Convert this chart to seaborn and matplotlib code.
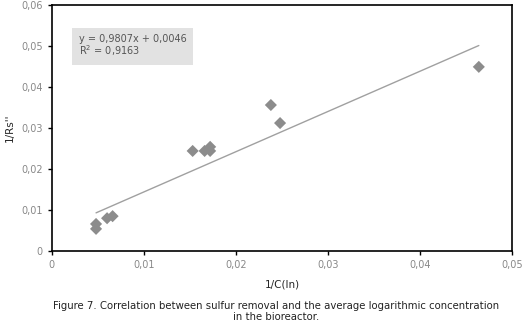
import numpy as np
import matplotlib
matplotlib.use('Agg')
import matplotlib.pyplot as plt
import seaborn as sns
import pandas as pd

# datos
x_vals = [0.0048, 0.0048, 0.0060, 0.0066, 0.0153, 0.0166, 0.0172, 0.0172, 0.0238, 0.0248, 0.0464]
y_vals = [0.0054, 0.0066, 0.0080, 0.0085, 0.0244, 0.0244, 0.0244, 0.0254, 0.0356, 0.0312, 0.0449]
slope = 0.9807
intercept = 0.0046
x_ticks = [0, 0.01, 0.02, 0.03, 0.04, 0.05]
x_ticklabels = ['0', '0,01', '0,02', '0,03', '0,04', '0,05']
y_ticks = [0, 0.01, 0.02, 0.03, 0.04, 0.05, 0.06]
y_ticklabels = ['0', '0,01', '0,02', '0,03', '0,04', '0,05', '0,06']

df = pd.DataFrame({'x': x_vals, 'y': y_vals})

sns.set_style('ticks')
plt.rcParams['font.family'] = ['DejaVu Sans']

fig = plt.figure(figsize=(5.24, 3.29), dpi=100)
ax = fig.add_axes([0.099, 0.237, 0.878, 0.748])

# linea de tendencia
xl = np.array([min(x_vals), max(x_vals)])
ax.plot(xl, slope * xl + intercept, color='#a0a0a0', lw=1.0, zorder=1)

sns.scatterplot(data=df, x='x', y='y', marker='D', s=38, color='#8c8c8c',
                edgecolor='none', ax=ax, zorder=2)

ax.set_xlim(0, 0.05)
ax.set_ylim(0, 0.06)
ax.set_xticks(x_ticks)
ax.set_xticklabels(x_ticklabels)
ax.set_yticks(y_ticks)
ax.set_yticklabels(y_ticklabels)
ax.tick_params(labelsize=7, colors='#000000', labelcolor='#888888', length=3, width=1)
for s in ax.spines.values():
    s.set_color('black')
    s.set_linewidth(1.2)

ax.set_xlabel('1/C(ln)', fontsize=7.5)
ax.set_ylabel("1/Rs''", fontsize=7.5)
ax.xaxis.set_label_coords(0.5, -0.115)
ax.yaxis.set_label_coords(-0.08, 0.5)

ax.text(0.0029, 0.0530, 'y = 0,9807x + 0,0046\nR$^2$ = 0,9163', fontsize=7,
        color='#555555', va='top', ha='left', linespacing=1.0,
        bbox=dict(facecolor='#e2e2e2', edgecolor='none', pad=5))

fig.text(0.527, 0.052, 'Figure 7. Correlation between sulfur removal and the average logarithmic concentration\nin the bioreactor.',
         ha='center', va='center', fontsize=7.3, color='#222222', linespacing=1.15)

fig.savefig('out.png', dpi=100)
